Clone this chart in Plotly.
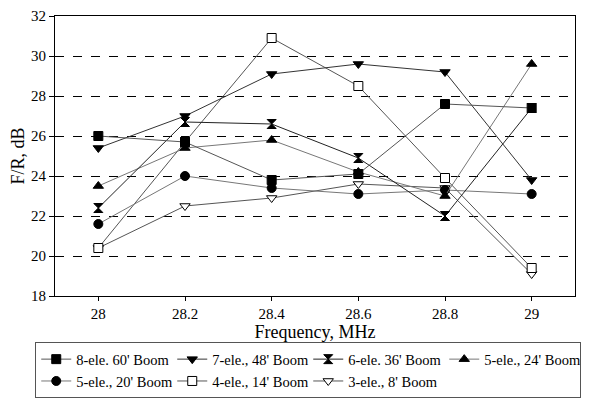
import plotly.graph_objects as go

freq = [28, 28.2, 28.4, 28.6, 28.8, 29]
y_8ele60 = [26.0, 25.7, 23.8, 24.1, 27.6, 27.4]
y_7ele48 = [25.4, 27.0, 29.1, 29.6, 29.2, 23.8]
y_6ele36 = [22.4, 26.7, 26.6, 24.9, 22.0, 27.4]
y_5ele24 = [23.5, 25.4, 25.8, 24.2, 23.0, 29.6]
y_5ele20 = [21.6, 24.0, 23.4, 23.1, 23.3, 23.1]
y_4ele14 = [20.4, 25.7, 30.9, 28.5, 23.9, 19.4]
y_3ele8 = [20.4, 22.5, 22.9, 23.6, 23.4, 19.1]

names = ["8-ele. 60' Boom", "7-ele., 48' Boom", "6-ele. 36' Boom", "5-ele., 24' Boom",
         "5-ele., 20' Boom", "4-ele., 14' Boom", "3-ele., 8' Boom"]
series = [y_8ele60, y_7ele48, y_6ele36, y_5ele24, y_5ele20, y_4ele14, y_3ele8]
symbols = ["square", "triangle-down", "hourglass", "triangle-up", "circle", "square", "triangle-down"]
fills = ["black", "black", "black", "black", "black", "white", "white"]
line_colors = ["#555555", "#333333", "#222222", "#777777", "#777777", "#555555", "#555555"]

fig = go.Figure()
# draw in reverse so the first series sits on top; legend order kept via legendrank
for i in reversed(range(len(series))):
    fig.add_trace(go.Scatter(
        x=freq, y=series[i], name=names[i], mode="lines+markers",
        line=dict(color=line_colors[i], width=1),
        marker=dict(symbol=symbols[i], size=9, color=fills[i],
                    line=dict(color="black", width=1)),
        legendrank=i + 1,
    ))

font = "Liberation Serif, Times New Roman, serif"
fig.update_layout(
    width=586, height=393,
    margin=dict(l=47, r=19, t=8, b=105, autoexpand=False),
    paper_bgcolor="white", plot_bgcolor="white",
    font=dict(family=font, size=15, color="black"),
    showlegend=True,
    legend=dict(orientation="h", x=-0.038, xanchor="left", y=-0.165, yanchor="top",
                bordercolor="#555555", borderwidth=1, font=dict(size=14.5, family=font),
                itemwidth=30, tracegroupgap=0, entrywidth=91, entrywidthmode="pixels"),
    xaxis=dict(range=[27.9, 29.1], tickvals=freq, ticktext=["28", "28.2", "28.4", "28.6", "28.8", "29"],
               showline=True, linecolor="black", linewidth=1, mirror=True,
               ticks="outside", ticklen=4, tickcolor="black", showgrid=False, zeroline=False,
               title=dict(text="Frequency, MHz", standoff=0)),
    yaxis=dict(range=[18, 32], dtick=2, showline=True, linecolor="black", linewidth=1, mirror=True,
               ticks="outside", ticklen=5, tickcolor="black", ticklabeloverflow="allow",
               showgrid=True, gridcolor="black", gridwidth=1, griddash="dash", zeroline=False,
               title=dict(text="F/R, dB", standoff=2)),
)

fig.write_html("out.html")
